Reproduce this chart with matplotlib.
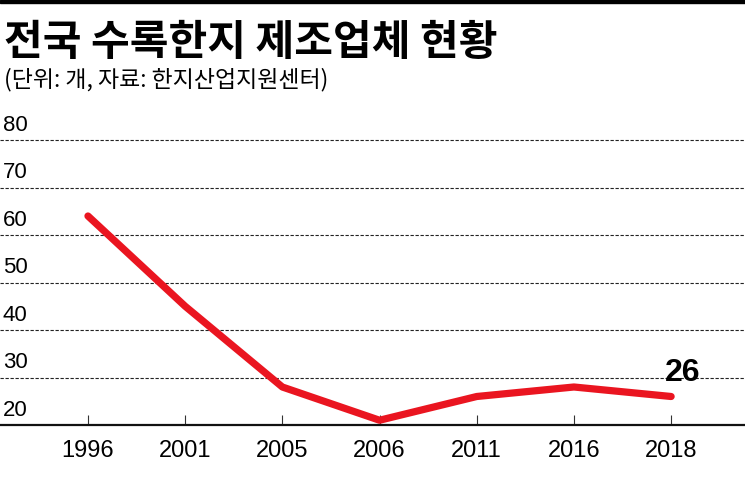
import numpy as np
import matplotlib
matplotlib.use("Agg")
import matplotlib.pyplot as plt
import matplotlib.transforms as mtransforms

# data
years = ["1996", "2001", "2005", "2006", "2011", "2016", "2018"]
counts = [64, 45, 28, 21, 26, 28, 26]
y_ticks = [20, 30, 40, 50, 60, 70, 80]

title = "전국 수록한지 제조업체 현황"
subtitle = "(단위: 개, 자료: 한지산업지원센터)"

num_font = ["Liberation Sans Narrow", "Liberation Sans", "DejaVu Sans"]
kr_font = ["Noto Sans CJK KR", "DejaVu Sans"]
red = "#ea1520"

fig = plt.figure(figsize=(7.45, 4.84), dpi=100)
fig.patch.set_facecolor("white")

ax = fig.add_axes([0, 59 / 484, 1, 285 / 484])
x = np.arange(len(years))
ax.set_xlim(-0.905, 6.76)
ax.set_ylim(20, 80)

# dashed grid lines
for v in y_ticks[1:]:
    ax.axhline(v, color="#222222", lw=0.8, ls=(0, (3, 1.5)), clip_on=False, zorder=1)

ax.plot(x, counts, color=red, lw=5.2, solid_capstyle="round",
        solid_joinstyle="round", zorder=3)

for s in ["top", "left", "right"]:
    ax.spines[s].set_visible(False)
ax.spines["bottom"].set_linewidth(1.6)
ax.spines["bottom"].set_color("#111111")

ax.set_yticks([])
ax.set_xticks(x)
ax.set_xticklabels(years, fontfamily=num_font, fontsize=17)
ax.tick_params(axis="x", direction="in", length=7.5, width=0.8,
               color="#333333", pad=11)

# y labels sit above each line at left
trans = mtransforms.blended_transform_factory(ax.transAxes, ax.transData)
for v in y_ticks:
    ax.annotate(str(v), xy=(0, v), xycoords=trans, xytext=(2, 3),
                textcoords="offset points", ha="left", va="bottom",
                fontfamily=num_font, fontsize=16, color="black")

# last value label
ax.annotate(str(counts[-1]), xy=(x[-1], counts[-1]), xytext=(8, 6),
            textcoords="offset points", ha="center", va="bottom",
            fontfamily=num_font, fontsize=23, fontweight="bold")

# top black bar
fig.add_artist(plt.Rectangle((0, 1 - 3 / 484), 1, 3 / 484,
                             transform=fig.transFigure, color="black"))

fig.text(4 / 745, 1 - 55 / 484, title, fontfamily=kr_font, fontsize=30.3,
         fontweight="black", ha="left", va="baseline")
fig.text(4 / 745, 1 - 86 / 484, subtitle, fontfamily=kr_font, fontsize=16.5,
         fontweight="medium", ha="left", va="baseline")

fig.savefig("out.png", dpi=100, facecolor="white")
